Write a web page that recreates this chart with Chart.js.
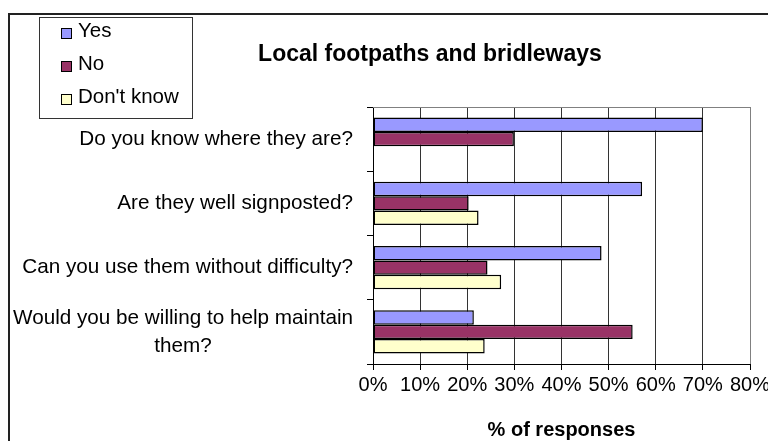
<!DOCTYPE html>
<html>
<head>
<meta charset="utf-8">
<script src="https://cdn.jsdelivr.net/npm/chart.js@4"></script>
<style>
  html, body { margin: 0; padding: 0; background: #fff; }
  #wrap { position: relative; width: 768px; height: 441px; }
</style>
</head>
<body>
<div id="wrap"><canvas id="chart-bar" width="768" height="441"></canvas></div>
<script>
// data
var questions = [
  "Do you know where they are?",
  "Are they well signposted?",
  "Can you use them without difficulty?",
  ["Would you be willing to help maintain", "them?"]
];
var seriesNames = ["Yes", "No", "Don't know"];
var yesValues = [70, 57.1, 48.5, 21.4];
var noValues = [29.9, 20.3, 24.3, 55.1];
var dontKnowValues = [null, 22.4, 27.2, 23.7];
var seriesColors = ["#9999FF", "#993366", "#FFFFCC"];
var xMax = 80;
var xStep = 10;

var FONT = "'Liberation Sans', Arial, sans-serif";

// frame, title, legend box and the category labels
var excelBits = {
  id: 'excelBits',
  afterDraw: function (chart) {
    var ctx = chart.ctx;
    var area = chart.chartArea;
    ctx.save();

    // outer frame (top and left only)
    ctx.fillStyle = '#222';
    ctx.fillRect(8, 13, 760, 2);
    ctx.fillRect(8, 13, 2, 428);

    // plot area top border
    ctx.strokeStyle = '#808080';
    ctx.lineWidth = 1;
    ctx.beginPath();
    ctx.moveTo(area.left, Math.round(area.top) + 0.5);
    ctx.lineTo(area.right, Math.round(area.top) + 0.5);
    ctx.stroke();

    // title
    ctx.fillStyle = '#000';
    ctx.font = 'bold 23px ' + FONT;
    ctx.textAlign = 'center';
    ctx.textBaseline = 'middle';
    ctx.fillText("Local footpaths and bridleways", 430, 55);

    // legend
    ctx.strokeStyle = '#333';
    ctx.strokeRect(39.5, 17.5, 153, 101);
    ctx.font = '20.5px ' + FONT;
    ctx.textAlign = 'left';
    var ys = [31.5, 64.5, 97.5];
    chart.data.datasets.forEach(function (ds, i) {
      ctx.fillStyle = ds.backgroundColor;
      ctx.fillRect(61, ys[i] - 3.5, 11, 11);
      ctx.strokeStyle = '#000';
      ctx.strokeRect(61.5, ys[i] - 3, 10, 10);
      ctx.fillStyle = '#000';
      ctx.fillText(ds.label, 78, ys[i]);
    });

    // category labels, multi line ones centred as a block
    var yScale = chart.scales.y;
    var right = area.left - 20;
    var lh = 28;
    ctx.font = '20.7px ' + FONT;
    chart.data.labels.forEach(function (lab, i) {
      var lines = Array.isArray(lab) ? lab : [lab];
      var yc = yScale.getPixelForValue(i);
      var w = 0;
      lines.forEach(function (l) { w = Math.max(w, ctx.measureText(l).width); });
      var y0 = yc - (lines.length - 1) * lh / 2;
      lines.forEach(function (l, j) {
        if (lines.length > 1) {
          ctx.textAlign = 'center';
          ctx.fillText(l, right - w / 2, y0 + j * lh);
        } else {
          ctx.textAlign = 'right';
          ctx.fillText(l, right, y0 + j * lh);
        }
      });
    });
    ctx.restore();
  }
};

var datasets = [yesValues, noValues, dontKnowValues].map(function (vals, i) {
  return {
    label: seriesNames[i],
    data: vals,
    backgroundColor: seriesColors[i],
    borderColor: '#000',
    borderWidth: 1.5,
    borderSkipped: false,
    barPercentage: 1,
    categoryPercentage: 0.67
  };
});

var ctx1 = document.getElementById("chart-bar").getContext("2d");
var grafik = new Chart(ctx1, {
  type: "bar",
  data: {
    labels: questions,
    datasets: datasets
  },
  plugins: [excelBits],
  options: {
    indexAxis: 'y',
    responsive: false,
    animation: false,
    layout: {
      padding: { left: 0, right: 18, top: 107, bottom: 0 }
    },
    plugins: {
      legend: { display: false },
      title: { display: false },
      tooltip: { enabled: false }
    },
    scales: {
      x: {
        min: 0,
        max: xMax,
        afterFit: function (scale) {
          scale.height = 77;
          scale.paddingLeft = 0;
          scale.paddingRight = 0;
        },
        grid: {
          display: true,
          drawOnChartArea: true,
          drawTicks: true,
          tickLength: 6,
          color: function (c) {
            return c.tick && c.tick.value === xMax ? '#808080' : '#333';
          },
          tickColor: '#000'
        },
        border: { display: true, color: '#000', width: 1 },
        ticks: {
          stepSize: xStep,
          padding: 3,
          color: '#000',
          maxRotation: 0,
          font: { size: 20, family: FONT },
          callback: function (v) { return v + '%'; }
        },
        title: {
          display: true,
          text: '% of responses',
          color: '#000',
          padding: 1,
          font: { size: 20, weight: 'bold', family: FONT, lineHeight: 1 }
        }
      },
      y: {
        afterFit: function (scale) {
          scale.width = 373;
        },
        grid: {
          display: true,
          drawOnChartArea: false,
          drawTicks: true,
          tickLength: 6,
          tickColor: '#000',
          offset: true
        },
        border: { display: true, color: '#000', width: 1 },
        ticks: { display: false }
      }
    }
  }
});
</script>
</body>
</html>
